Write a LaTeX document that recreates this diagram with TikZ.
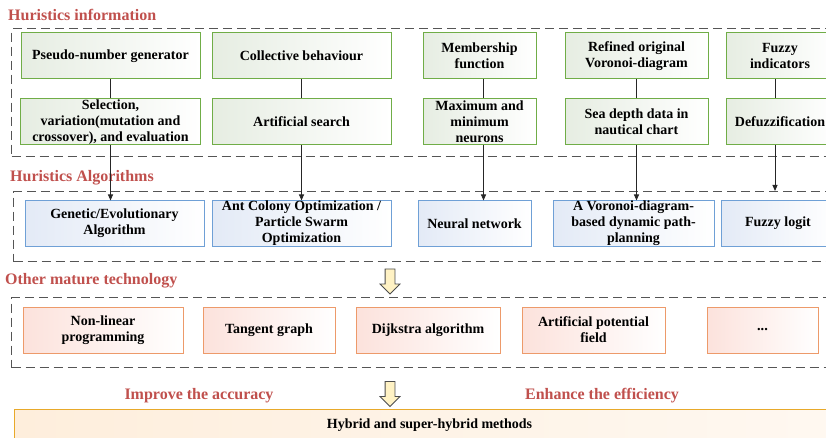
\documentclass[tikz,border=0pt]{standalone}
\usepackage{fontspec}
\setmainfont{Liberation Serif}
\usepackage{tikz}
\usetikzlibrary{positioning,shapes.arrows,arrows.meta}

\definecolor{titlered}{HTML}{C0504D}
\definecolor{infogreen}{HTML}{70AD47}
\definecolor{infofill}{HTML}{E6EDE2}
\definecolor{algblue}{HTML}{6FA0D6}
\definecolor{algfill}{HTML}{E3EAF6}
\definecolor{techorange}{HTML}{ED9A6A}
\definecolor{techfill}{HTML}{FCE2DC}
\definecolor{hybridgold}{HTML}{E8A92A}
\definecolor{hybridfill}{HTML}{FEEEDC}
\definecolor{arrowfill}{HTML}{FFF2C4}
\definecolor{dashgray}{HTML}{555555}

\tikzstyle{basenode} = [rectangle, line width=1pt, minimum height=46pt, inner sep=0pt,
                        align=center, font=\bfseries\fontsize{14}{16}\selectfont]
\tikzstyle{infonode} = [basenode, draw=infogreen, left color=infofill, right color=white]
\tikzstyle{algnode} = [basenode, draw=algblue, left color=algfill, right color=white, minimum height=45pt]
\tikzstyle{technode} = [basenode, draw=techorange, left color=techfill, right color=white]
\tikzstyle{hybridnode} = [basenode, draw=hybridgold, left color=hybridfill, right color=white!60!hybridfill]
\tikzstyle{groupbox} = [rectangle, draw=dashgray, line width=1.2pt, dash pattern=on 9pt off 5pt,
                        anchor=north west, inner sep=0pt]
\tikzstyle{heading} = [anchor=west, inner sep=0pt, text=titlered, font=\bfseries\fontsize{16}{18}\selectfont]
\tikzstyle{link} = [line width=0.9pt, draw=black!85]
\tikzstyle{arrow} = [link, ->, >={Triangle[length=6pt,width=5pt]}]
\tikzstyle{downarrow} = [single arrow, shape border rotate=270, draw=black!70, fill=arrowfill,
                         line width=0.8pt, minimum height=25pt, inner sep=4.5pt, single arrow head extend=5pt]

\begin{document}
\begin{tikzpicture}[x=1pt, y=1pt]
	\useasboundingbox (0,0) rectangle (826,-438);

	% Heuristics information
	\node[heading] (infotitle) at (8,-15) {Huristics information};
	\node[groupbox, minimum width=830pt, minimum height=128pt] (infogroup) at (11,-28) {};

	\node[infonode, minimum width=179pt] (info1) at (110.5,-56) {Pseudo-number generator};
	\node[infonode, minimum width=179pt, right=11pt of info1] (info2) {Collective behaviour};
	\node[infonode, minimum width=113pt, right=31pt of info2] (info3) {Membership\\function};
	\node[infonode, minimum width=143pt, right=28pt of info3] (info4) {Refined original\\Voronoi-diagram};
	\node[infonode, minimum width=108pt, right=17pt of info4] (info5) {Fuzzy\\indicators};

	\node[infonode, minimum width=180pt, below=19pt of info1] (meth1) {Selection,\\variation(mutation and\\crossover), and evaluation};
	\node[infonode, minimum width=179pt, below=19pt of info2] (meth2) {Artificial search};
	\node[infonode, minimum width=113pt, below=19pt of info3] (meth3) {Maximum and\\minimum\\neurons};
	\node[infonode, minimum width=143pt, below=19pt of info4] (meth4) {Sea depth data in\\nautical chart};
	\node[infonode, minimum width=108pt, below=19pt of info5] (meth5) {Defuzzification};

	% Heuristics algorithms
	\node[heading] (algtitle) at (10,-178) {Huristics Algorithms};
	\node[groupbox, minimum width=830pt, minimum height=70pt] (alggroup) at (13,-191) {};

	\node[algnode, minimum width=179pt] (alg1) at (114.5,-223.5) {Genetic/Evolutionary\\Algorithm};
	\node[algnode, minimum width=179pt, right=7pt of alg1] (alg2) {Ant Colony Optimization /\\Particle Swarm\\Optimization};
	\node[algnode, minimum width=113pt, right=26pt of alg2] (alg3) {Neural network};
	\node[algnode, minimum width=161pt, right=21pt of alg3] (alg4) {A Voronoi-diagram-\\based dynamic path-\\planning};
	\node[algnode, minimum width=114pt, right=6pt of alg4] (alg5) {Fuzzy logit};

	\node[downarrow] (down1) at (390,-279) {};

	% Other mature technology
	\node[heading] (techtitle) at (5,-281) {Other mature technology};
	\node[groupbox, minimum width=830pt, minimum height=70pt] (techgroup) at (11,-297) {};

	\node[technode, minimum width=160pt] (tech1) at (103,-330) {Non-linear\\programming};
	\node[technode, minimum width=132pt, right=19pt of tech1] (tech2) {Tangent graph};
	\node[technode, minimum width=144pt, right=20pt of tech2] (tech3) {Dijkstra algorithm};
	\node[technode, minimum width=143pt, right=21pt of tech3] (tech4) {Artificial potential\\field};
	\node[technode, minimum width=111pt, right=41pt of tech4] (tech5) {\Large ...};

	\node[downarrow] (down2) at (390,-391.5) {};

	% Hybrid methods
	\node[heading, anchor=center] (accuracy) at (199,-396) {Improve the accuracy};
	\node[heading, anchor=center] (efficiency) at (602,-396) {Enhance the efficiency};
	\node[hybridnode, minimum width=830pt, minimum height=32pt, anchor=north west] (hybrid) at (14,-409) {Hybrid and super-hybrid methods};

	% Connectors
	\draw[link] (info1) -- (meth1);
	\draw[link] (info2) -- (meth2);
	\draw[link] ([xshift=4pt]info3.south) -- ([xshift=4pt]meth3.north);
	\draw[link] (info4) -- (meth4);
	\draw[link] ([xshift=-5pt]info5.south) -- ([xshift=-5pt]meth5.north);

	\draw[arrow] (meth1.south) -- (meth1.south |- alg1.north);
	\draw[arrow] (meth2) -- (alg2);
	\draw[arrow] ([xshift=4pt]meth3.south) -- ([xshift=4pt]meth3.south |- alg3.north);
	\draw[arrow] (meth4.south) -- (meth4.south |- alg4.north);
	\draw[arrow] ([xshift=-5pt]meth5.south) -- ([xshift=-5pt]meth5.south |- alggroup.north);
\end{tikzpicture}
\end{document}
